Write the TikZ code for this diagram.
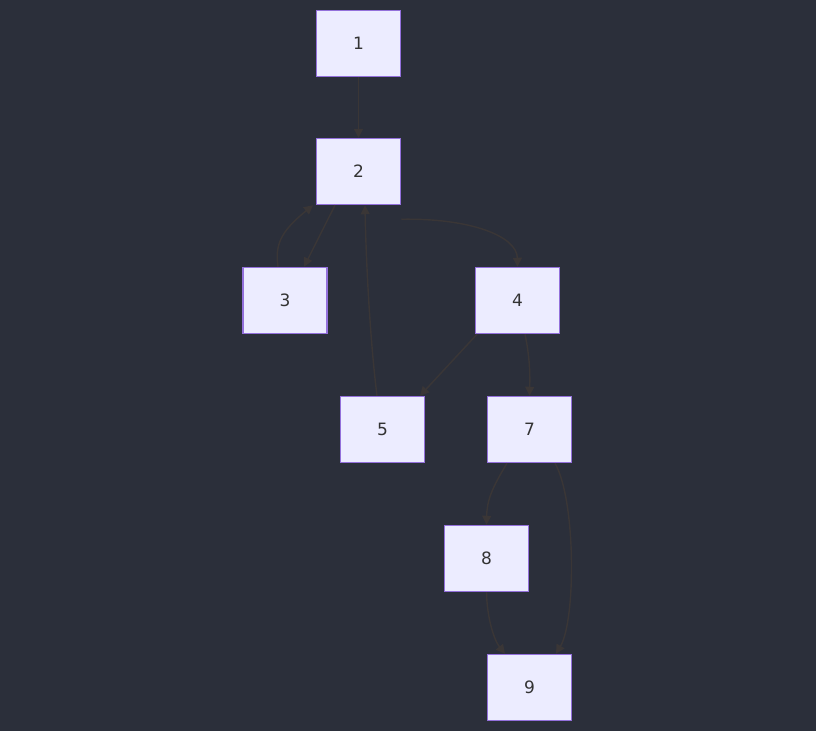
\documentclass[tikz,border=0pt]{standalone}
\usepackage{fontspec}
\setmainfont{DejaVu Sans}
\usetikzlibrary{arrows.meta}
\definecolor{bgc}{RGB}{43,47,58}
\definecolor{nfill}{RGB}{236,236,255}
\definecolor{nborder}{RGB}{147,112,219}
\definecolor{edgec}{RGB}{58,54,54}
\definecolor{txtc}{RGB}{51,51,51}
\tikzset{
  box/.style={draw=nborder, fill=nfill, line width=1.5pt, minimum width=84pt, minimum height=66pt, inner sep=0pt, text=txtc, font=\fontsize{17}{19}\selectfont},
  conn/.style={draw=edgec, line width=1.4pt, -{Triangle[length=9pt,width=9pt]}}
}
\begin{document}
\begin{tikzpicture}[x=1pt,y=-1pt]
\fill[bgc] (0,0) rectangle (816,731);
\useasboundingbox (0,0) rectangle (816,731);
\node[box] (n1) at (358.5,43.5) {1};
\node[box] (n2) at (358.5,171.5) {2};
\node[box] (n3) at (285,300.5) {3};
\node[box] (n4) at (517.5,300.5) {4};
\node[box] (n5) at (382.5,429.5) {5};
\node[box] (n7) at (529.5,429.5) {7};
\node[box] (n8) at (486.5,558.5) {8};
\node[box] (n9) at (529.5,687.5) {9};
\draw[conn] (n1.south) -- (n2.north);
\draw[conn] ([xshift=-23.5pt]n2.south) -- ([xshift=19pt]n3.north);
\draw[conn] ([xshift=-7pt]n3.north) .. controls (275,245) and (280,232) .. ([xshift=-45.5pt]n2.south);
\draw[conn] ([yshift=-14pt]n2.south east) .. controls (470,218) and (517,236) .. (n4.north);
\draw[conn] ([xshift=-5.5pt]n5.north) .. controls (370,340) and (366,260) .. ([xshift=6.5pt]n2.south);
\draw[conn] ([xshift=-40.5pt]n4.south) -- ([xshift=37.5pt]n5.north);
\draw[conn] ([xshift=7.5pt]n4.south) .. controls (530,358) and (530,375) .. (n7.north);
\draw[conn] ([xshift=-22.5pt]n7.south) .. controls (492,488) and (487,500) .. (n8.north);
\draw[conn] (n8.south) .. controls (487,618) and (494,640) .. ([xshift=-24.5pt]n9.north);
\draw[conn] ([xshift=25.5pt]n7.south) .. controls (576,500) and (576,620) .. ([xshift=26.5pt]n9.north);
\end{tikzpicture}
\end{document}
